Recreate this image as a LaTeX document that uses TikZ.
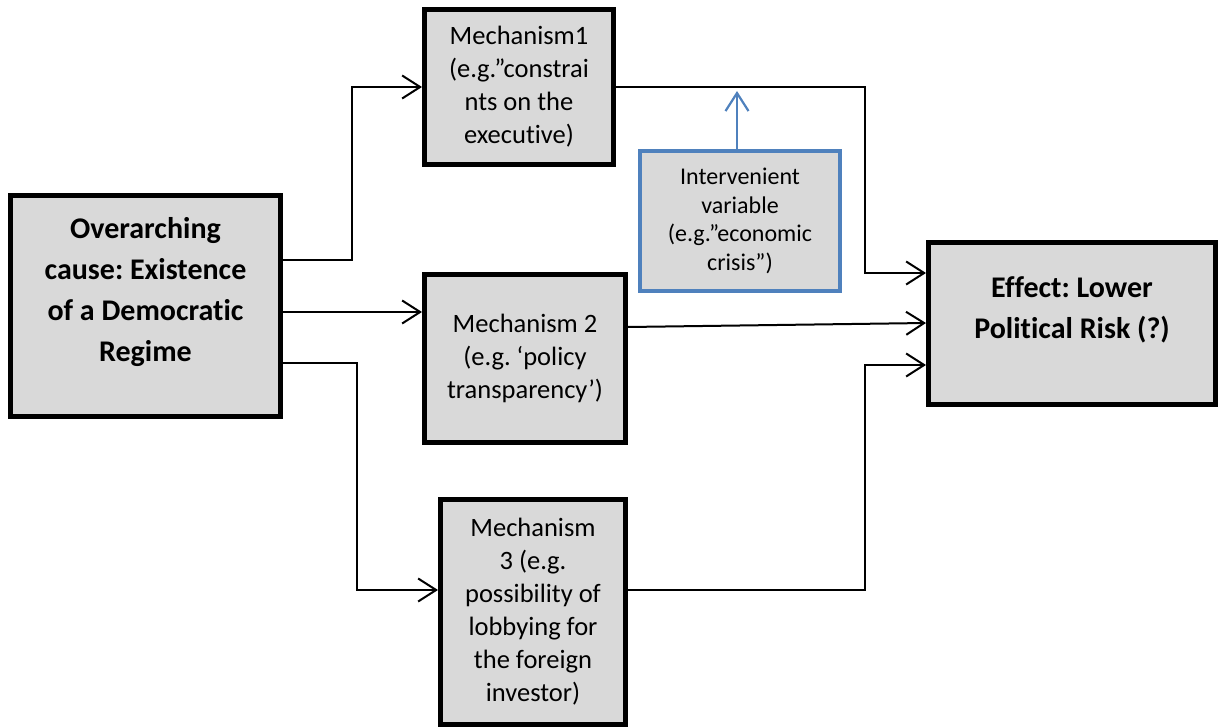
\documentclass[tikz,border=0pt]{standalone}
\usepackage{fontspec}
\setmainfont{Carlito}[RawFeature={-liga;-clig;-dlig;-calt;-hlig}]
\frenchspacing
\usetikzlibrary{arrows.meta,calc}
\definecolor{boxgray}{HTML}{D9D9D9}
\definecolor{ivblue}{HTML}{4F81BD}
\tikzset{
  box/.style={draw=black, line width=5pt, fill=boxgray, inner sep=0pt, align=center, anchor=center},
  regtext/.style={font=\fontsize{26.5}{33}\selectfont},
  boldtext/.style={inner sep=0pt, align=center, font=\fontsize{30}{41}\selectfont\bfseries},
  ivbox/.style={draw=ivblue, line width=4pt, fill=boxgray, inner sep=0pt, align=center, anchor=center, font=\fontsize{24}{28.5}\selectfont},
  conn/.style={line width=2pt, -{Straight Barb[length=18pt,width=23pt,line width=2pt]}},
  ivconn/.style={draw=ivblue, line width=2.2pt, -{Straight Barb[length=18pt,width=23pt,line width=2.2pt]}}
}
\begin{document}
\begin{tikzpicture}[x=1pt,y=-1pt]
\useasboundingbox (0,0) rectangle (1218,727);
\node[box, minimum width=270pt, minimum height=221pt] (cause) at (145.5,306) {};
\node[boldtext] (causetxt) at ([yshift=14pt]cause.center) {Overarching\\cause: Existence\\of a Democrat\kern0pt ic\\Regime};
\node[box, regtext, minimum width=189pt, minimum height=155pt] (m1) at (519,87) {Mechanism1\\(e.g.”constrai\\nts on the\\executive)};
\node[box, regtext, minimum width=201pt, minimum height=168pt] (m2) at (525,358.5) {Mechanism 2\\(e.g. ‘policy\\transparency’)};
\node[box, regtext, minimum width=185pt, minimum height=225pt] (m3) at (533,612) {Mechanism\\3 (e.g.\\possibility of\\lobbying for\\the foreign\\investor)};
\node[ivbox, minimum width=200pt, minimum height=140pt] (iv) at (740,221) {Intervenient\\variable\\(e.g.”economic\\crisis”)};
\node[box, minimum width=287pt, minimum height=162pt] (eff) at (1072,323.5) {};
\node[boldtext] (efftxt) at ([yshift=14pt]eff.center) {Effect: Lower\\Polit\kern0pt ical Risk (?)};
\coordinate (ivtip) at (737,91);
% cause to mechanisms
\draw[conn] ([yshift=46pt]cause.east) -| ($(m1.west)+(-70,0)$) -- (m1.west);
\draw[conn] ([yshift=-6pt]cause.east) -- ([yshift=46.5pt]m2.west);
\draw[conn] ([yshift=-57pt]cause.east) -| ($([yshift=22pt]m3.west)+(-81,0)$) -- ([yshift=22pt]m3.west);
% mechanisms to effect
\draw[conn] (m1.east) -| ($([yshift=50.5pt]eff.west)+(-61,0)$) -- ([yshift=50.5pt]eff.west);
\draw[conn] ([yshift=31.5pt]m2.east) -- ([yshift=0.5pt]eff.west);
\draw[conn] ([yshift=22pt]m3.east) -| ($([yshift=-41.5pt]eff.west)+(-61,0)$) -- ([yshift=-41.5pt]eff.west);
% intervenient
\draw[ivconn] ([xshift=-3pt]iv.north) -- (ivtip);
\end{tikzpicture}
\end{document}
